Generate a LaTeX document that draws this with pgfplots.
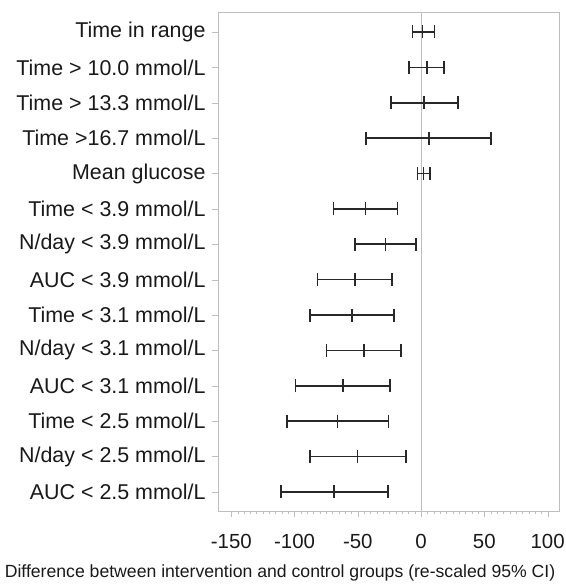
\documentclass[border=0pt]{standalone}
\usepackage{pgfplots}
\pgfplotsset{compat=1.18}
\usepackage{pgfplotstable}
\usepackage{fontspec}
\setmainfont{Liberation Sans}
\definecolor{framegray}{RGB}{190,190,190}
\definecolor{barcol}{RGB}{40,40,40}

% lower limit, estimate, upper limit for each outcome (row 1 at top)
\pgfplotstableread{
y lo mid hi
1 -6.9 1.0 10.5
2 -9.5 4.5 17.9
3 -23.7 2.4 29.0
4 -43.5 6.3 55.3
5 -2.9 1.8 7.1
6 -69.3 -44.0 -18.7
7 -52.2 -28.2 -4.2
8 -82.0 -52.4 -22.9
9 -88.0 -54.5 -21.3
10 -74.6 -45.3 -16.1
11 -99.1 -61.9 -24.5
12 -105.9 -65.9 -25.8
13 -88.0 -50.4 -12.1
14 -110.7 -68.8 -26.3
}\ci

\begin{document}
\begin{tikzpicture}
\useasboundingbox (-218bp,-73bp) rectangle (348bp,511bp);
\begin{axis}[
    scale only axis,
    width=341bp, height=499bp,
    xmin=-160.5, xmax=109,
    ymin=0.435, ymax=14.54,
    y dir=reverse,
    axis line style={framegray},
    tick style={framegray},
    tick align=outside,
    xtick pos=bottom, ytick pos=left,
    major tick length=6bp, minor tick length=3bp,
    xtick={-150,-100,-50,0,50,100},
    xticklabels={-150,-100,-50,0,50,100},
    minor x tick num=9,
    ytick={1,...,14},
    yticklabels={Time in range, Time > 10.0 mmol/L, Time > 13.3 mmol/L, Time >16.7 mmol/L,
        Mean glucose, Time < 3.9 mmol/L, N/day < 3.9 mmol/L, AUC < 3.9 mmol/L,
        Time < 3.1 mmol/L, N/day < 3.1 mmol/L, AUC < 3.1 mmol/L,
        Time < 2.5 mmol/L, N/day < 2.5 mmol/L, AUC < 2.5 mmol/L},
    yticklabel style={font=\fontsize{21.5}{25}\selectfont, text=black!90, xshift=-3bp},
    xticklabel style={font=\fontsize{20.5}{24}\selectfont, text=black!90, yshift=-14bp},
    xlabel={Difference between intervention and control groups (re-scaled 95\% CI)},
    xlabel style={at={(ticklabel cs:0.182)}, anchor=north,
        font=\fontsize{17.7}{21}\selectfont, text=black!90, yshift=-9bp},
]
\addplot[framegray, line width=0.8bp] coordinates {(0,0.435) (0,14.54)};
\addplot[only marks, mark=|, mark size=6.5bp,
    mark options={line width=1.6bp, draw=barcol},
    error bars/.cd, x dir=both, x explicit,
    error mark=|,
    error bar style={line width=1.6bp, draw=barcol},
    error mark options={mark size=6.5bp, line width=1.6bp, draw=barcol}]
    table[x=mid, y=y,
          x error plus expr=\thisrow{hi}-\thisrow{mid},
          x error minus expr=\thisrow{mid}-\thisrow{lo}] {\ci};
\end{axis}
\end{tikzpicture}
\end{document}
